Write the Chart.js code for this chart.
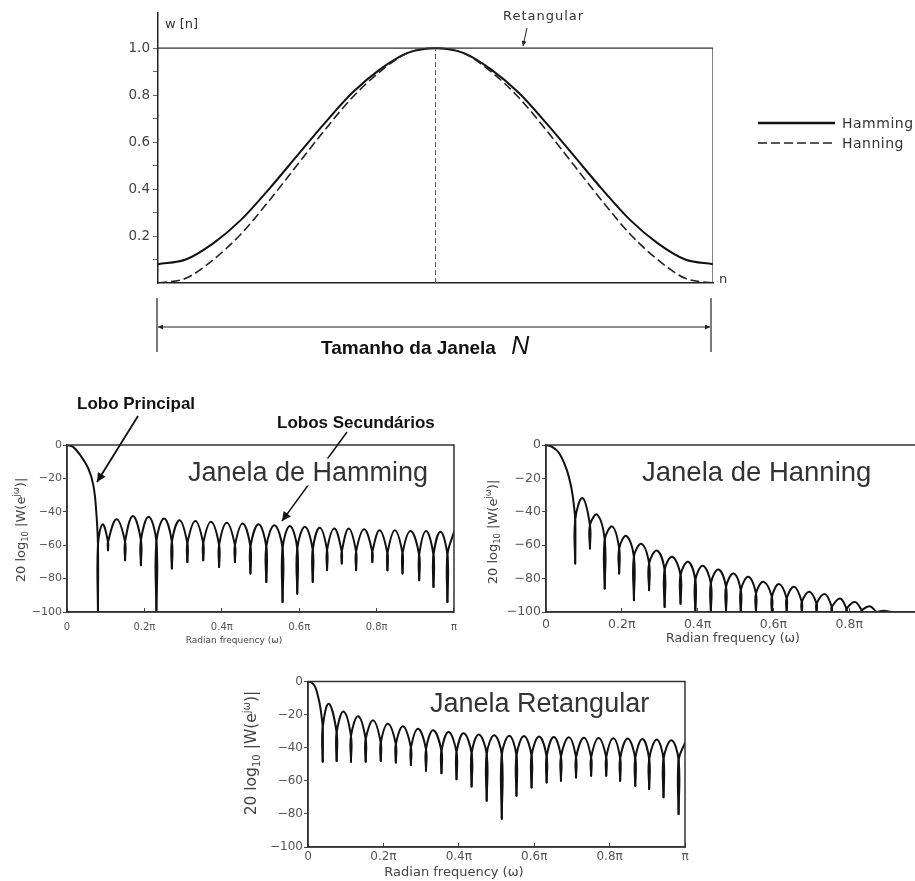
<!DOCTYPE html>
<html>
<head>
<meta charset="utf-8">
<script src="https://cdn.jsdelivr.net/npm/chart.js@4.4.0/dist/chart.umd.min.js"></script>
<style>
html, body { margin: 0; padding: 0; background: #fff; width: 915px; height: 881px; overflow: hidden; }
body { position: relative; font-family: "DejaVu Sans", sans-serif; }
.box { position: absolute; }
.t { position: absolute; white-space: nowrap; color: #333; line-height: 1; transform: translateY(-50%); }
.c { position: absolute; white-space: nowrap; color: #333; line-height: 1; transform: translate(-50%, -50%); }
.rot { position: absolute; white-space: nowrap; color: #444; line-height: 1; transform: translate(-50%, -50%) rotate(-90deg); }
.big { font-family: "Liberation Sans", Arial, sans-serif; color: #333; background: #fff; }
.bold { font-family: "Liberation Sans", Arial, sans-serif; font-weight: bold; color: #111; }
.legend-item { position: absolute; left: 758px; display: flex; align-items: center; font-size: 14px; color: #333; letter-spacing: 0.5px; transform: translateY(-50%); }
.legend-item svg { margin-right: 7px; }
sub, sup { font-size: 65%; line-height: 0; }
#ov { position: absolute; left: 0; top: 0; pointer-events: none; }
</style>
</head>
<body>

<div class="box" style="left:0;top:0;width:760px;height:300px"><canvas id="winChart"></canvas></div>
<div class="box" style="left:0;top:430px;width:470px;height:230px"><canvas id="hamChart"></canvas></div>
<div class="box" style="left:470px;top:430px;width:480px;height:230px"><canvas id="hanChart"></canvas></div>
<div class="box" style="left:230px;top:666px;width:470px;height:215px"><canvas id="recChart"></canvas></div>

<svg id="ov" width="915" height="881">
  <defs>
    <marker id="ah" viewBox="0 0 10 10" refX="10" refY="5" markerWidth="15" markerHeight="9" markerUnits="userSpaceOnUse" orient="auto">
      <path d="M0,0 L10,5 L0,10 z" fill="#111"/>
    </marker>
    <marker id="ahs" viewBox="0 0 10 10" refX="10" refY="5" markerWidth="7" markerHeight="5" markerUnits="userSpaceOnUse" orient="auto-start-reverse">
      <path d="M0,0 L10,5 L0,10 z" fill="#222"/>
    </marker>
  </defs>
  <!-- tamanho da janela -->
  <line x1="157" y1="298" x2="157" y2="352" stroke="#222" stroke-width="1.2"/>
  <line x1="711" y1="298" x2="711" y2="352" stroke="#222" stroke-width="1.2"/>
  <line x1="158" y1="327" x2="710" y2="327" stroke="#222" stroke-width="1.2" marker-start="url(#ahs)" marker-end="url(#ahs)"/>
  <!-- setas -->
  <line x1="527" y1="28" x2="523" y2="46" stroke="#222" stroke-width="1" marker-end="url(#ahs)"/>
  <line x1="138" y1="416" x2="97" y2="482" stroke="#111" stroke-width="1.8" marker-end="url(#ah)"/>
  <line x1="347" y1="432" x2="282" y2="521" stroke="#111" stroke-width="1.5" marker-end="url(#ah)"/>
</svg>

<!-- textos do grafico de cima -->
<div class="t" style="left:165px;top:23px;font-size:13px">w [n]</div>
<div class="t" style="left:503px;top:15px;font-size:13px;letter-spacing:1px">Retangular</div>
<div class="t" style="left:719px;top:278px;font-size:13px">n</div>
<div class="legend-item" style="top:123px">
  <svg width="77" height="6"><line x1="0" y1="3" x2="77" y2="3" stroke="#111" stroke-width="2.5"/></svg>Hamming
</div>
<div class="legend-item" style="top:143px">
  <svg width="77" height="6"><line x1="0" y1="3" x2="77" y2="3" stroke="#222" stroke-width="1.6" stroke-dasharray="9,4"/></svg>Hanning
</div>
<div class="t bold" style="left:321px;top:345px;font-size:19px">Tamanho da Janela <span style="font-weight:normal;font-style:italic;font-size:25px;margin-left:10px">N</span></div>

<!-- textos dos espectros -->
<div class="t bold" style="left:77px;top:403px;font-size:17px">Lobo Principal</div>
<div class="t bold" style="left:277px;top:422px;font-size:17px">Lobos Secundários</div>
<div class="t big" style="left:188px;top:472px;font-size:27px">Janela de Hamming</div>
<div class="t big" style="left:642px;top:472px;font-size:27.5px">Janela de Hanning</div>
<div class="t big" style="left:430px;top:703px;font-size:27px">Janela Retangular</div>

<div class="c" style="left:234px;top:640px;font-size:9px;color:#444">Radian frequency (ω)</div>
<div class="c" style="left:733px;top:638px;font-size:12.5px;color:#444">Radian frequency (ω)</div>
<div class="c" style="left:454px;top:871px;font-size:13px;color:#444">Radian frequency (ω)</div>
<div class="rot" style="left:20px;top:530px;font-size:13px">20 log<sub>10</sub> |W(e<sup>jω</sup>)|</div>
<div class="rot" style="left:492px;top:532px;font-size:13px">20 log<sub>10</sub> |W(e<sup>jω</sup>)|</div>
<div class="rot" style="left:252px;top:753px;font-size:15.5px">20 log<sub>10</sub> |W(e<sup>jω</sup>)|</div>

<script>
// ---- janelas no tempo (n / N) ----
const nPos = [0, 0.05, 0.1, 0.15, 0.2, 0.25, 0.3, 0.35, 0.4, 0.45, 0.5, 0.55, 0.6, 0.65, 0.7, 0.75, 0.8, 0.85, 0.9, 0.95, 1];
const hammingW = [0.08, 0.10, 0.17, 0.27, 0.40, 0.54, 0.68, 0.81, 0.91, 0.98, 1.00, 0.98, 0.91, 0.81, 0.68, 0.54, 0.40, 0.27, 0.17, 0.10, 0.08];
const hanningW = [0.00, 0.02, 0.10, 0.21, 0.35, 0.50, 0.65, 0.79, 0.90, 0.98, 1.00, 0.98, 0.90, 0.79, 0.65, 0.50, 0.35, 0.21, 0.10, 0.02, 0.00];
const retPos = [0, 1, 1];
const retW = [1, 1, 0];
const centerPos = [0.5, 0.5];
const centerW = [0, 1];

// ---- eixos dos espectros ----
const freqTicks = [0, 0.2, 0.4, 0.6, 0.8, 1];
const freqLabels = ['0', '0.2π', '0.4π', '0.6π', '0.8π', 'π'];
const dbTicks = [-100, -80, -60, -40, -20, 0];
const dbLabels = ['−100', '−80', '−60', '−40', '−20', '0'];

// ---- Hamming (frequencia em unidades de pi, dB) ----
const hamMainF = [0, 0.015, 0.034, 0.055, 0.068, 0.075];
const hamMainDb = [0, -1, -6, -14, -24, -38];
const hamNullF = [0.080, 0.106, 0.150, 0.191, 0.231, 0.271, 0.311, 0.352, 0.393, 0.434, 0.474, 0.515, 0.557, 0.595, 0.635, 0.672, 0.710, 0.747, 0.789, 0.828, 0.867, 0.910, 0.947, 0.983];
const hamNullDb = [-100, -63, -69, -72, -99, -74, -70, -69, -73, -70, -77, -82, -94, -89, -82, -75, -71, -75, -70, -75, -77, -81, -85, -94];
const hamEdgeDb = [-60, -58, -58, -57, -58, -58, -59, -59, -60, -60, -61, -61, -62, -62, -63, -63, -64, -64, -64, -65, -65, -66, -66, -66];
const hamPeakF = [0.092, 0.128, 0.170, 0.211, 0.251, 0.291, 0.332, 0.372, 0.413, 0.454, 0.495, 0.536, 0.576, 0.615, 0.653, 0.691, 0.728, 0.768, 0.808, 0.847, 0.888, 0.928, 0.965, 1.0];
const hamPeakDb = [-47.5, -44.5, -42.5, -43, -44, -45, -45.5, -46, -46.5, -47, -47.5, -48, -48.5, -49, -49.5, -50, -50, -50.5, -51, -51, -51.5, -51.5, -52, -52];

// ---- Hanning ----
const hanMainF = [0, 0.015, 0.034, 0.055, 0.068, 0.074];
const hanMainDb = [0, -1, -4.6, -15, -27, -37];
const hanNullF = [0.077, 0.116, 0.155, 0.193, 0.232, 0.272, 0.313, 0.355, 0.394, 0.435, 0.475, 0.514, 0.554, 0.596, 0.635, 0.675, 0.714, 0.754, 0.793, 0.833, 0.872, 0.910];
const hanNullDb = [-71, -62, -86, -77, -93, -87, -97, -95, -100, -100, -100, -100, -100, -100, -100, -100, -100, -100, -100, -100, -100, -100];
const hanEdgeDb = [-45, -48, -57, -62, -67, -71, -75, -78, -81, -83, -85, -87, -89, -91, -92, -94, -95, -97, -98, -99, -100, -100];
const hanPeakF = [0.096, 0.135, 0.175, 0.212, 0.252, 0.293, 0.333, 0.375, 0.414, 0.455, 0.495, 0.534, 0.574, 0.615, 0.655, 0.695, 0.736, 0.776, 0.815, 0.854, 0.891];
const hanPeakDb = [-31.7, -41.7, -48.8, -54.4, -59.2, -63.2, -66.9, -69.9, -72.3, -74.5, -76.9, -78.9, -81.9, -83.3, -84.9, -87.9, -89.3, -91.9, -94, -96.6, -99.2];

// ---- Retangular ----
const recMainF = [0, 0.01, 0.019, 0.027, 0.033, 0.037];
const recMainDb = [0, -0.8, -3.3, -9.4, -16, -23];
const recNullF = [0.039, 0.076, 0.114, 0.153, 0.193, 0.233, 0.273, 0.313, 0.354, 0.394, 0.434, 0.474, 0.514, 0.553, 0.593, 0.633, 0.671, 0.711, 0.751, 0.791, 0.828, 0.868, 0.905, 0.943, 0.983];
const recNullDb = [-48.5, -48, -48.5, -48.5, -48, -49, -50.5, -54, -55.5, -59, -63.5, -72, -83, -69, -64, -61, -60, -58, -57, -57, -60, -63, -65, -70, -80];
const recEdgeDb = [-28, -31, -33, -35, -37, -38, -40, -41, -42, -43, -43.5, -44, -44.5, -45, -45, -45.5, -45.5, -46, -46, -46, -46.5, -46.5, -47, -47, -47.5];
const recPeakF = [0.055, 0.094, 0.133, 0.173, 0.212, 0.252, 0.292, 0.332, 0.373, 0.413, 0.453, 0.494, 0.534, 0.573, 0.613, 0.652, 0.692, 0.732, 0.771, 0.810, 0.848, 0.887, 0.925, 0.964, 1.0];
const recPeakDb = [-13.4, -18.1, -21, -23.5, -25.5, -27, -28.5, -29.5, -30.5, -31.3, -32, -32.5, -32.8, -33, -33.2, -33.5, -33.7, -34, -34.1, -34.3, -34.5, -34.7, -35, -35.5, -37];

Chart.defaults.font.family = '"DejaVu Sans", sans-serif';
Chart.defaults.color = '#444';
Chart.defaults.animation = false;

function xy(xs, ys) {
    return xs.map((x, i) => ({ x: x, y: ys[i] }));
}

// cada lobo vai do fundo de um nulo ao fundo do seguinte; lacuna entre lobos
function archPoints(mainF, mainDb, nullF, nullDb, edgeDb, peakF, peakDb) {
    const pts = xy(mainF, mainDb);
    nullF.forEach((f, i) => {
        pts.push({ x: f, y: edgeDb[i] }, { x: f, y: nullDb[i] }, { x: f, y: null },
                 { x: f, y: nullDb[i] }, { x: f, y: edgeDb[i] });
        if (i < peakF.length) pts.push({ x: peakF[i], y: peakDb[i] });
    });
    return pts;
}

// nulos: traco vertical reto da base do arco ate o fundo
function spikePoints(nullF, nullDb, edgeDb) {
    const pts = [];
    nullF.forEach((f, i) => {
        pts.push({ x: f, y: edgeDb[i] }, { x: f, y: nullDb[i] }, { x: f, y: null });
    });
    return pts;
}

const frame = {
    id: 'frame',
    afterDatasetsDraw(chart) {
        const { ctx, chartArea: a } = chart;
        ctx.save();
        ctx.strokeStyle = '#333';
        ctx.lineWidth = 1.5;
        ctx.strokeRect(a.left, a.top, a.right - a.left, a.bottom - a.top);
        ctx.restore();
    }
};

// janelas no tempo
new Chart(document.getElementById('winChart'), {
    type: 'line',
    data: {
        datasets: [
            { data: xy(retPos, retW), borderColor: '#333', borderWidth: 1.2, pointRadius: 0, tension: 0 },
            { data: xy(centerPos, centerW), borderColor: '#555', borderWidth: 1, borderDash: [5, 3], pointRadius: 0, tension: 0 },
            { data: xy(nPos, hanningW), borderColor: '#222', borderWidth: 1.6, borderDash: [9, 4], pointRadius: 0, cubicInterpolationMode: 'monotone' },
            { data: xy(nPos, hammingW), borderColor: '#111', borderWidth: 2, pointRadius: 0, cubicInterpolationMode: 'monotone' }
        ]
    },
    options: {
        responsive: true,
        maintainAspectRatio: false,
        layout: { padding: { top: 13, right: 47, left: 0, bottom: 0 } },
        plugins: { legend: { display: false }, tooltip: { enabled: false } },
        scales: {
            x: {
                type: 'linear', min: 0, max: 1,
                afterFit: s => { s.height = 17; },
                ticks: { display: false },
                grid: { display: false },
                border: { display: true, color: '#222', width: 1.5 }
            },
            y: {
                min: 0, max: 1.15,
                afterBuildTicks: s => { s.ticks = [0.1, 0.2, 0.3, 0.4, 0.5, 0.6, 0.7, 0.8, 0.9, 1.0].map(v => ({ value: v })); },
                afterFit: s => { s.width = 158; },
                ticks: {
                    padding: 3,
                    font: { size: 13.5 },
                    color: '#444',
                    callback: v => {
                        const k = Math.round(v * 10);
                        return k % 2 === 0 ? (k / 10).toFixed(1) : '';
                    }
                },
                grid: { drawOnChartArea: false, tickLength: 5, tickColor: '#666' },
                border: { display: true, color: '#222', width: 1.5 }
            }
        }
    }
});

function spectrumChart(id, arches, spikes, o) {
    return new Chart(document.getElementById(id), {
        type: 'line',
        data: {
            datasets: [
                { data: arches, borderColor: '#111', borderWidth: 2, pointRadius: 0, tension: 0.4, borderCapStyle: 'round', borderJoinStyle: 'round' },
                { data: spikes, borderColor: '#111', borderWidth: 2, pointRadius: 0, tension: 0, borderCapStyle: 'round' }
            ]
        },
        options: {
            responsive: true,
            maintainAspectRatio: false,
            layout: { padding: { top: o.padTop, right: o.padRight, left: 0, bottom: 0 } },
            plugins: { legend: { display: false }, tooltip: { enabled: false } },
            scales: {
                x: {
                    type: 'linear', min: 0, max: 1,
                    afterBuildTicks: s => { s.ticks = freqTicks.map(v => ({ value: v })); },
                    afterFit: s => { s.height = o.xHeight; },
                    ticks: {
                        autoSkip: false, maxRotation: 0,
                        padding: o.xPad,
                        font: { size: o.xFont },
                        color: '#555',
                        callback: (v, i) => freqLabels[i]
                    },
                    grid: { drawOnChartArea: false, tickLength: -4, tickColor: '#444' },
                    border: { display: true, color: '#333', width: 1.5 }
                },
                y: {
                    min: -100, max: 0,
                    afterBuildTicks: s => { s.ticks = dbTicks.map(v => ({ value: v })); },
                    afterFit: s => { s.width = o.yWidth; },
                    ticks: {
                        padding: 1,
                        font: { size: o.yFont },
                        color: '#555',
                        callback: (v, i) => dbLabels[i]
                    },
                    grid: { drawOnChartArea: false, tickLength: 4, tickColor: '#444' },
                    border: { display: true, color: '#333', width: 1.5 }
                }
            }
        },
        plugins: [frame]
    });
}

spectrumChart('hamChart',
    archPoints(hamMainF, hamMainDb, hamNullF, hamNullDb, hamEdgeDb, hamPeakF, hamPeakDb),
    spikePoints(hamNullF, hamNullDb, hamEdgeDb),
    { padTop: 15, padRight: 15, yWidth: 67, xHeight: 48, xPad: 13, xFont: 10, yFont: 11 });

spectrumChart('hanChart',
    archPoints(hanMainF, hanMainDb, hanNullF, hanNullDb, hanEdgeDb, hanPeakF, hanPeakDb),
    spikePoints(hanNullF, hanNullDb, hanEdgeDb),
    { padTop: 15, padRight: 25, yWidth: 76, xHeight: 48, xPad: 9, xFont: 12.5, yFont: 12.5 });

spectrumChart('recChart',
    archPoints(recMainF, recMainDb, recNullF, recNullDb, recEdgeDb, recPeakF, recPeakDb),
    spikePoints(recNullF, recNullDb, recEdgeDb),
    { padTop: 15.5, padRight: 15, yWidth: 78, xHeight: 34, xPad: 7, xFont: 12, yFont: 12 });
</script>
</body>
</html>
